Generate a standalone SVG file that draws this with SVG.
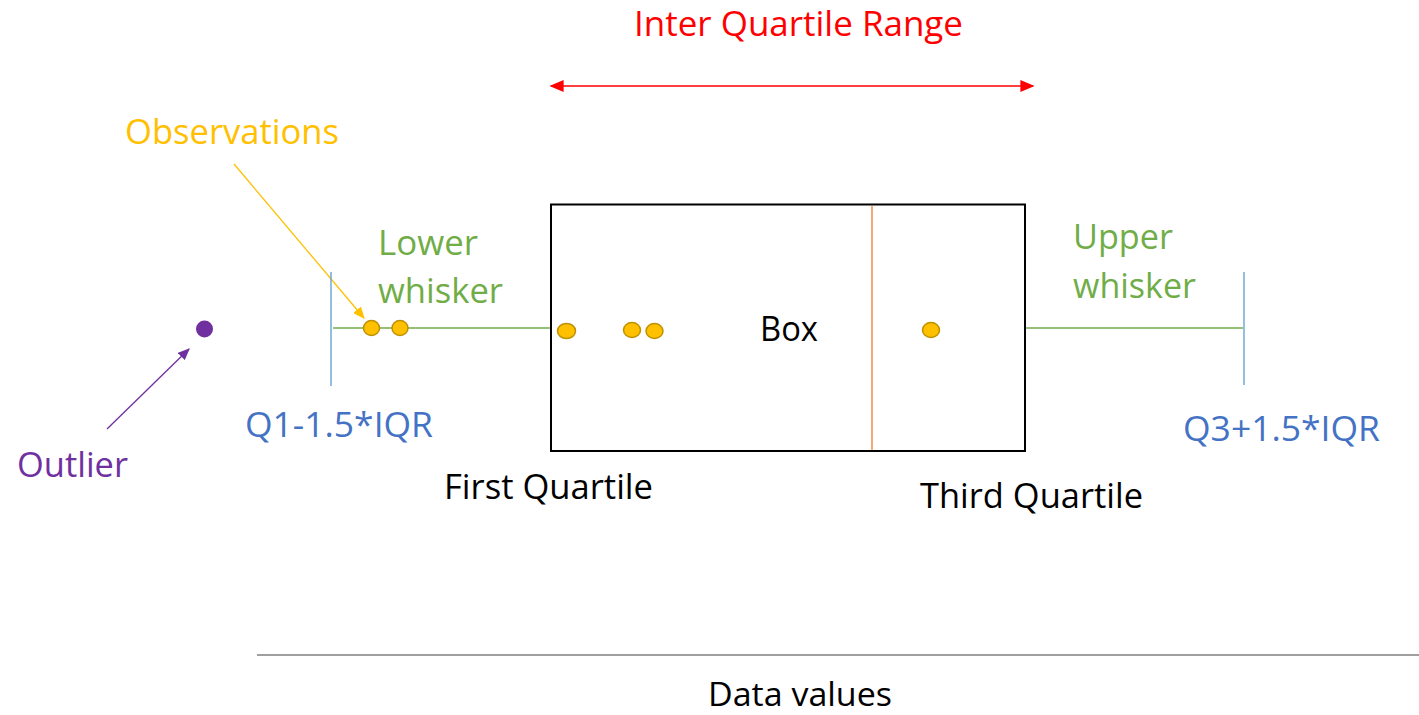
<svg xmlns="http://www.w3.org/2000/svg" width="1419" height="715" viewBox="0 0 1419 715">
<style>
text{font-family:"Open Sans","Liberation Sans",sans-serif;font-size:34px}
.green{fill:#70AD47}.blue{fill:#4472C4}.black{fill:#000}
.obs{fill:#FFC000;stroke:#BF9000;stroke-width:1.5}
</style>
<defs>
<marker id="redArrow" viewBox="0 0 10 10" refX="9" refY="5" markerWidth="14" markerHeight="12" orient="auto-start-reverse" markerUnits="userSpaceOnUse" preserveAspectRatio="none"><path d="M0,0L10,5L0,10z" fill="#FF0000"/></marker>
<marker id="yelArrow" viewBox="0 0 10 10" refX="9" refY="5" markerWidth="12" markerHeight="10" orient="auto" markerUnits="userSpaceOnUse" preserveAspectRatio="none"><path d="M0,0L10,5L0,10z" fill="#FFC000"/></marker>
<marker id="purArrow" viewBox="0 0 10 10" refX="9" refY="5" markerWidth="12" markerHeight="10" orient="auto" markerUnits="userSpaceOnUse" preserveAspectRatio="none"><path d="M0,0L10,5L0,10z" fill="#7030A0"/></marker>
</defs>
<rect width="1419" height="715" fill="#fff"/>
<g id="connectors">
<line x1="333" y1="328" x2="551" y2="328" stroke="#70AD47" stroke-width="1.3"/>
<line x1="1025" y1="328" x2="1243" y2="328" stroke="#70AD47" stroke-width="1.3"/>
<line x1="551" y1="86" x2="1033" y2="86" stroke="#FF0000" stroke-width="1.6" marker-start="url(#redArrow)" marker-end="url(#redArrow)"/>
<line x1="234" y1="164" x2="364" y2="318" stroke="#FFC000" stroke-width="1.3" marker-end="url(#yelArrow)"/>
<line x1="107" y1="429" x2="189" y2="349" stroke="#7030A0" stroke-width="1.3" marker-end="url(#purArrow)"/>
<line x1="257" y1="655" x2="1419" y2="655" stroke="#7F7F7F" stroke-width="1.5"/>
</g>
<g id="box">
<rect x="551" y="204.5" width="474" height="246.5" fill="none" stroke="#000" stroke-width="2"/>
<line x1="872" y1="205.5" x2="872" y2="450" stroke="#ED7D31" stroke-width="1.3"/>
<text x="789" y="341" text-anchor="middle" class="black" textLength="58" lengthAdjust="spacingAndGlyphs">Box</text>
</g>
<g id="lower-fence">
<line x1="331" y1="272" x2="331" y2="386" stroke="#5B9BD5" stroke-width="1.3"/>
<text x="245" y="437" class="blue" textLength="188" lengthAdjust="spacingAndGlyphs">Q1-1.5*IQR</text>
</g>
<g id="upper-fence">
<line x1="1244" y1="272" x2="1244" y2="385" stroke="#5B9BD5" stroke-width="1.3"/>
<text x="1183" y="441" class="blue" textLength="197" lengthAdjust="spacingAndGlyphs">Q3+1.5*IQR</text>
</g>
<g id="lower-whisker-label">
<text x="378" y="255" class="green" textLength="100" lengthAdjust="spacingAndGlyphs">Lower</text>
<text x="378" y="303" class="green" textLength="125" lengthAdjust="spacingAndGlyphs">whisker</text>
</g>
<g id="upper-whisker-label">
<text x="1073" y="249" class="green" textLength="100" lengthAdjust="spacingAndGlyphs">Upper</text>
<text x="1073" y="298" class="green" textLength="123" lengthAdjust="spacingAndGlyphs">whisker</text>
</g>
<g id="observations">
<ellipse class="obs" cx="371.5" cy="328" rx="8" ry="7.5"/>
<ellipse class="obs" cx="400" cy="328" rx="8" ry="7.5"/>
<ellipse class="obs" cx="566.5" cy="331" rx="9" ry="7.5"/>
<ellipse class="obs" cx="632" cy="330" rx="8.5" ry="7.5"/>
<ellipse class="obs" cx="654.5" cy="331" rx="8.5" ry="7.5"/>
<ellipse class="obs" cx="931" cy="330" rx="8.5" ry="7.5"/>
<text x="125" y="144" fill="#FFC000" textLength="214" lengthAdjust="spacingAndGlyphs">Observations</text>
</g>
<g id="outlier">
<circle cx="204.5" cy="329" r="8.5" fill="#7030A0"/>
<text x="17" y="477" fill="#7030A0" textLength="111" lengthAdjust="spacingAndGlyphs">Outlier</text>
</g>
<g id="iqr">
<text x="634" y="36" fill="#FF0000" textLength="329" lengthAdjust="spacingAndGlyphs">Inter Quartile Range</text>
</g>
<g id="first-quartile">
<text x="444" y="499" class="black" textLength="209" lengthAdjust="spacingAndGlyphs">First Quartile</text>
</g>
<g id="third-quartile">
<text x="920" y="508" class="black" textLength="223" lengthAdjust="spacingAndGlyphs">Third Quartile</text>
</g>
<g id="axis-label">
<text x="708" y="706" class="black" style="font-size:32px" textLength="184" lengthAdjust="spacingAndGlyphs">Data values</text>
</g>
</svg>
